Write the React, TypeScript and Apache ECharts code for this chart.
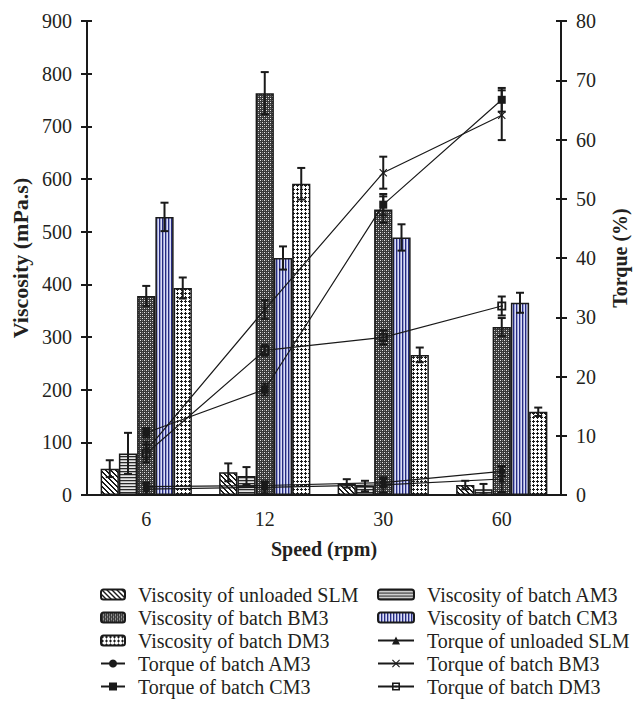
import React, { useEffect, useRef } from 'react';
import * as echarts from 'echarts';

const categories = ['6', '12', '30', '60'];

const viscSLM = [50, 43, 22, 19];
const viscAM3 = [79, 36, 17, 11];
const viscBM3 = [378, 763, 542, 319];
const viscCM3 = [528, 450, 489, 365];
const viscDM3 = [393, 591, 266, 158];
const errViscSLM = [16, 17, 8, 8];
const errViscAM3 = [39, 17, 10, 10];
const errViscBM3 = [19, 40, 25, 17];
const errViscCM3 = [27, 22, 25, 19];
const errViscDM3 = [20, 30, 14, 8];

const torqueSLM = [1.0, 1.3, 1.7, 2.7];
const torqueAM3 = [1.4, 1.6, 2.1, 4.0];
const torqueBM3 = [7.5, 31.3, 54.4, 64.1];
const torqueCM3 = [10.5, 17.8, 49.0, 66.7];
const torqueDM3 = [7.0, 24.4, 26.6, 31.9];
const errTorqueSLM = [1.1, 1.0, 1.3, 2.2];
const errTorqueAM3 = [0.5, 0.5, 0.6, 0.8];
const errTorqueBM3 = [1.5, 1.6, 2.7, 4.2];
const errTorqueCM3 = [0.8, 1.0, 1.8, 2.0];
const errTorqueDM3 = [1.5, 0.9, 1.2, 1.6];

const FONT = '"Liberation Serif", "Times New Roman", serif';
const INK = '#231f20';

function makePattern(w: number, h: number, fn: (x: number, y: number) => string) {
  const c = document.createElement('canvas');
  c.width = w;
  c.height = h;
  const ctx = c.getContext('2d')!;
  for (let y = 0; y < h; y++) {
    for (let x = 0; x < w; x++) {
      ctx.fillStyle = fn(x, y);
      ctx.fillRect(x, y, 1, 1);
    }
  }
  return { image: c, repeat: 'repeat' } as any;
}

export default function App() {
  const ref = useRef<HTMLDivElement>(null);
  useEffect(() => {
    if (!ref.current) return;
    const chart = echarts.init(ref.current, undefined, { renderer: 'svg' });

    const patSLM = makePattern(5, 5, (x, y) => (((x - y) % 5 + 5) % 5 < 2 ? '#1a1a1a' : '#ffffff'));
    const patAM3 = makePattern(1, 3, (_x, y) => ['#2a2a2a', '#b5b5b5', '#e6e6e6'][y]);
    const patBM3 = makePattern(4, 4, (x, y) => {
      if ((x === 0 && y === 0) || (x === 2 && y === 2)) return '#e8e8e8';
      if ((x === 2 && y === 0) || (x === 0 && y === 2)) return '#8a8a8a';
      return '#383838';
    });
    const patCM3 = makePattern(3, 1, (x) => ['#262b80', '#989ed6', '#dcdef2'][x]);
    const patDM3 = makePattern(4, 4, (x, y) =>
      (x === 1 && y <= 2) || (y === 1 && x <= 2) ? '#1a1a1a' : '#ffffff'
    );

    const barBase = {
      type: 'bar',
      xAxisIndex: 0,
      yAxisIndex: 0,
      barGap: '0%',
      barCategoryGap: '23%',
    };
    const barBorder = { borderColor: '#1a1a1a', borderWidth: 1.5 };

    const errSeries = (values: number[], errs: number[], idx: number | null, yAxisIndex: number) => ({
      type: 'custom',
      xAxisIndex: 0,
      yAxisIndex,
      z: 10,
      silent: true,
      data: values.map((v, i) => [i, v, errs[i]]),
      renderItem: (_params: any, api: any) => {
        const i = api.value(0);
        const v = api.value(1);
        const e = api.value(2);
        const band = api.size([1, 0])[0];
        const bw = (band * 0.77) / 5;
        const off = idx === null ? 0 : (idx - 2) * bw;
        const top = api.coord([i, v + e]);
        const bot = api.coord([i, Math.max(v - e, 0)]);
        const x = top[0] + off;
        const cap = 4;
        const style = { stroke: '#1a1a1a', lineWidth: 2 };
        return {
          type: 'group',
          children: [
            { type: 'line', shape: { x1: x, y1: top[1], x2: x, y2: bot[1] }, style },
            { type: 'line', shape: { x1: x - cap, y1: top[1], x2: x + cap, y2: top[1] }, style },
            { type: 'line', shape: { x1: x - cap, y1: bot[1], x2: x + cap, y2: bot[1] }, style },
          ],
        };
      },
    });

    const lineBase = {
      type: 'line',
      xAxisIndex: 0,
      yAxisIndex: 1,
      z: 6,
      symbolSize: 8,
      lineStyle: { color: '#1a1a1a', width: 1.2 },
      itemStyle: { color: '#1a1a1a' },
    };

    const xSym = 'path://M0,1 L1,0 L5,4 L9,0 L10,1 L6,5 L10,9 L9,10 L5,6 L1,10 L0,9 L4,5 Z';
    const boxSym = 'path://M0,0 H10 V10 H0 Z M2,2 V8 H8 V2 Z M4,4 H6 V6 H4 Z';

    const axisLineStyle = { color: '#1a1a1a', width: 2 };
    const tickStyle = { color: '#1a1a1a', width: 2 };
    const labelStyle = { fontFamily: FONT, fontSize: 20, color: INK };
    const nameStyle = { fontFamily: FONT, fontSize: 20, fontWeight: 'bold', color: INK };

    const legendText = { fontFamily: FONT, fontSize: 20, color: INK, lineHeight: 23, padding: [0, 0, 0, 8] };

    chart.setOption({
      animation: false,
      backgroundColor: '#ffffff',
      grid: { left: 87, right: 70, top: 21, bottom: 216, containLabel: false },
      legend: [
        {
          orient: 'vertical',
          left: 100,
          top: 583,
          padding: 0,
          itemGap: 0,
          itemWidth: 24,
          itemHeight: 10,
          textStyle: legendText,
          data: [
            'Viscosity of unloaded SLM',
            'Viscosity of batch BM3',
            'Viscosity of batch DM3',
            'Torque of batch AM3',
            'Torque of batch CM3',
          ],
        },
        {
          orient: 'vertical',
          left: 377,
          top: 583,
          padding: 0,
          itemGap: 0,
          itemWidth: 36,
          itemHeight: 10,
          textStyle: legendText,
          data: [
            'Viscosity of batch AM3',
            'Viscosity of batch CM3',
            'Torque of unloaded SLM',
            'Torque of batch BM3',
            'Torque of batch DM3',
          ],
        },
      ],
      xAxis: [
        {
          type: 'category',
          data: categories,
          position: 'bottom',
          axisLine: { lineStyle: axisLineStyle },
          axisTick: { length: 6, lineStyle: tickStyle },
          axisLabel: { ...labelStyle, margin: 14 },
          name: 'Speed (rpm)',
          nameLocation: 'middle',
          nameGap: 44,
          nameTextStyle: nameStyle,
        },
        {
          type: 'category',
          data: categories,
          position: 'bottom',
          axisLine: { show: false },
          axisTick: { inside: true, length: 5, lineStyle: tickStyle },
          axisLabel: { show: false },
        },
      ],
      yAxis: [
        {
          type: 'value',
          position: 'left',
          min: 0,
          max: 900,
          interval: 100,
          axisLine: { show: true, lineStyle: axisLineStyle },
          axisTick: { show: true, length: 6, lineStyle: tickStyle },
          axisLabel: { ...labelStyle, margin: 15 },
          splitLine: { show: false },
          name: 'Viscosity (mPa.s)',
          nameLocation: 'middle',
          nameGap: 54,
          nameRotate: 90,
          nameTextStyle: { ...nameStyle, fontSize: 22 },
        },
        {
          type: 'value',
          position: 'right',
          min: 0,
          max: 80,
          interval: 10,
          axisLine: { show: true, lineStyle: axisLineStyle },
          axisTick: { show: true, length: 6, lineStyle: tickStyle },
          axisLabel: { ...labelStyle, margin: 15 },
          splitLine: { show: false },
          name: 'Torque (%)',
          nameLocation: 'middle',
          nameGap: 49,
          nameRotate: 90,
          nameTextStyle: nameStyle,
        },
        {
          type: 'value',
          position: 'left',
          min: 0,
          max: 900,
          interval: 100,
          axisLine: { show: false },
          axisTick: { show: true, inside: true, length: 5, lineStyle: tickStyle },
          axisLabel: { show: false },
          splitLine: { show: false },
        },
        {
          type: 'value',
          position: 'right',
          min: 0,
          max: 80,
          interval: 10,
          axisLine: { show: false },
          axisTick: { show: true, inside: true, length: 5, lineStyle: tickStyle },
          axisLabel: { show: false },
          splitLine: { show: false },
        },
      ],
      series: [
        { ...barBase, name: 'Viscosity of unloaded SLM', data: viscSLM, itemStyle: { color: patSLM, ...barBorder } },
        { ...barBase, name: 'Viscosity of batch AM3', data: viscAM3, itemStyle: { color: patAM3, ...barBorder } },
        { ...barBase, name: 'Viscosity of batch BM3', data: viscBM3, itemStyle: { color: patBM3, ...barBorder } },
        { ...barBase, name: 'Viscosity of batch CM3', data: viscCM3, itemStyle: { color: patCM3, ...barBorder } },
        { ...barBase, name: 'Viscosity of batch DM3', data: viscDM3, itemStyle: { color: patDM3, ...barBorder } },
        errSeries(viscSLM, errViscSLM, 0, 0),
        errSeries(viscAM3, errViscAM3, 1, 0),
        errSeries(viscBM3, errViscBM3, 2, 0),
        errSeries(viscCM3, errViscCM3, 3, 0),
        errSeries(viscDM3, errViscDM3, 4, 0),
        { ...lineBase, name: 'Torque of unloaded SLM', data: torqueSLM, symbol: 'triangle', symbolSize: 7 },
        { ...lineBase, name: 'Torque of batch AM3', data: torqueAM3, symbol: 'circle', symbolSize: 7 },
        { ...lineBase, name: 'Torque of batch BM3', data: torqueBM3, symbol: xSym, symbolSize: 8 },
        { ...lineBase, name: 'Torque of batch CM3', data: torqueCM3, symbol: 'rect', symbolSize: 8 },
        { ...lineBase, name: 'Torque of batch DM3', data: torqueDM3, symbol: boxSym, symbolSize: 9 },
        errSeries(torqueSLM, errTorqueSLM, null, 1),
        errSeries(torqueAM3, errTorqueAM3, null, 1),
        errSeries(torqueBM3, errTorqueBM3, null, 1),
        errSeries(torqueCM3, errTorqueCM3, null, 1),
        errSeries(torqueDM3, errTorqueDM3, null, 1),
      ],
    });
    return () => chart.dispose();
  }, []);

  return (
    <div
      ref={ref}
      style={{ position: 'absolute', left: 0, top: 0, width: 638, height: 711, background: '#fff' }}
    />
  );
}
